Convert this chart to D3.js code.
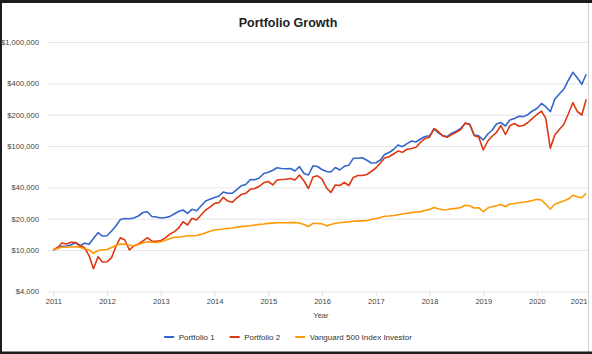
<!DOCTYPE html>
<html>
<head>
<meta charset="utf-8">
<script src="https://cdn.jsdelivr.net/npm/d3@7"></script>
<style>
    body { margin: 0; background: #1c1c1c; }
    svg { display: block; font-family: "Liberation Sans", Arial, sans-serif; }
</style>
</head>
<body>
<svg id="chart"></svg>
<script>
// monthly values, first point is the start of Jan 2011
const startYear = 2011;
const portfolio1 = [
    10000, 10450, 10850, 10930, 11170, 11750, 10930, 11600, 11340, 12900, 14680, 13630,
    13720, 15230, 17010, 19650, 20090, 19950, 20310, 21230, 22940, 23300, 21000, 20760,
    20310, 20540, 20930, 22190, 23450, 24250, 22540, 24630, 23860, 26490, 29590, 30710,
    31990, 33060, 36120, 35100, 35100, 38160, 41430, 42650, 47640, 47330, 49250, 54370,
    55850, 58490, 61760, 60770, 60500, 60770, 57500, 63240, 54370, 52630, 64530, 63520,
    59500, 56860, 56240, 62190, 58790, 63810, 65200, 76150, 76150, 77200, 72930, 68670,
    68970, 73360, 82860, 86630, 92560, 102240, 98460, 105460, 111710, 109260, 116700, 123400,
    125630, 145770, 134170, 126200, 122850, 132660, 138490, 147290, 165350, 162750, 127570, 125330,
    114200, 130430, 140930, 162750, 168210, 155700, 177830, 183840, 193000, 191700, 200900, 217070,
    229350, 256290, 238640, 213670, 281600, 316250, 351040, 426500, 511300, 453780, 392060, 489210
];
const portfolio2 = [
    10000, 10620, 11670, 11420, 11860, 11800, 11050, 10520, 8850, 6600, 8620, 7670,
    7700, 8450, 10760, 13130, 12480, 10000, 10930, 11420, 12200, 13130, 12200, 12120,
    12340, 13100, 14160, 14930, 16200, 18720, 17400, 20180, 19430, 21710, 24250, 25810,
    28020, 28620, 32120, 29590, 28750, 31630, 34100, 35100, 38450, 39030, 40970, 44260,
    45570, 42190, 47110, 47640, 47860, 48800, 47110, 52630, 46100, 39030, 50350, 51700,
    48250, 39460, 35730, 42190, 41730, 44570, 41730, 49830, 52080, 52080, 53220, 56860,
    61450, 68670, 76680, 78750, 83790, 89400, 87000, 93000, 94800, 97200, 108540, 118080,
    121490, 147290, 137860, 124780, 121490, 128990, 135420, 143780, 166490, 160980, 125330, 122050,
    91540, 111710, 123400, 135420, 157420, 128990, 156720, 164600, 154700, 157420, 168210, 184670,
    200900, 216120, 184670, 95000, 127570, 144110, 160980, 203100, 260840, 214620, 198660, 281600
];
const vanguard = [
    10000, 10380, 10620, 10620, 10690, 10730, 10640, 10270, 10040, 9260, 9890, 10070,
    10130, 10570, 11050, 11420, 11340, 11120, 10990, 11290, 11670, 11990, 11860, 11800,
    11990, 12400, 12810, 13240, 13340, 13480, 13700, 13720, 13790, 14130, 14670, 15160,
    15570, 15740, 15910, 16160, 16270, 16570, 16790, 16980, 17130, 17400, 17630, 17780,
    18020, 18140, 18260, 18300, 18300, 18350, 18420, 18180, 17590, 16820, 18060, 17980,
    17900, 17060, 17590, 18100, 18260, 18470, 18640, 18900, 18970, 19060, 19190, 19630,
    20090, 20540, 21090, 21230, 21470, 21800, 22190, 22530, 22890, 23200, 23400, 23960,
    24600, 25620, 24890, 24390, 24530, 24890, 25150, 25680, 26920, 26620, 25340, 25510,
    23340, 25340, 26000, 26690, 27420, 26040, 27720, 28020, 28470, 28840, 29270, 29920,
    30700, 30260, 27510, 24790, 27510, 28620, 29590, 30890, 33600, 32560, 31840, 35100
];
const seriesNames = ['Portfolio 1', 'Portfolio 2', 'Vanguard 500 Index Investor'];
const seriesColors = ['#3366cc', '#dc3912', '#ff9900'];
const yTicks = [4000, 10000, 20000, 40000, 100000, 200000, 400000, 1000000];
const xTickYears = [2011, 2012, 2013, 2014, 2015, 2016, 2017, 2018, 2019, 2020, 2021];

class growthChart {
    constructor(_config, _data) {
        this.config = {
            parentElement: _config.parentElement,
            containerWidth: _config.containerWidth || 592,
            containerHeight: _config.containerHeight || 354,
            margin: { top: 42, right: 4, bottom: 62, left: 48 }
        }
        this.data = _data;
        this.initVis();
    }

    initVis() {
        let vis = this;

        vis.width = vis.config.containerWidth - vis.config.margin.left - vis.config.margin.right;
        vis.height = 291.4 - vis.config.margin.top;

        vis.svg = d3.select(vis.config.parentElement)
            .attr('width', vis.config.containerWidth)
            .attr('height', vis.config.containerHeight);

        // white card with the dark window edge around it
        vis.svg.append('rect')
            .attr('x', 2).attr('y', 3)
            .attr('width', vis.config.containerWidth - 2)
            .attr('height', vis.config.containerHeight - 5)
            .attr('fill', '#fff');

        vis.xScale = d3.scaleTime()
            .domain([new Date(2011, 0, 1), new Date(2021, 0, 1)])
            .range([5.3, 5.3 + 10 * 53.75]);

        vis.yScale = d3.scaleLog()
            .domain([4000, 1000000])
            .range([vis.height, 0]);

        vis.chart = vis.svg.append('g')
            .attr('transform', `translate(${vis.config.margin.left},${vis.config.margin.top})`);

        vis.yAxis = d3.axisLeft(vis.yScale)
            .tickValues(yTicks)
            .tickSize(-vis.width)
            .tickPadding(9)
            .tickFormat(d => '$' + d3.format(',')(d));

        vis.xAxis = d3.axisBottom(vis.xScale)
            .tickValues(xTickYears.map(y => new Date(y, 0, 1)))
            .tickSize(4)
            .tickPadding(3.6)
            .tickFormat(d3.timeFormat('%Y'));

        vis.yAxisG = vis.chart.append('g').attr('class', 'axis y-axis');
        vis.xAxisG = vis.chart.append('g')
            .attr('class', 'axis x-axis')
            .attr('transform', `translate(0,${vis.height})`);

        vis.line = d3.line()
            .x((d, i) => vis.xScale(new Date(startYear, i, 1)))
            .y(d => vis.yScale(d));

        vis.renderVis();
    }

    renderVis() {
        let vis = this;

        vis.yAxisG.call(vis.yAxis);
        vis.yAxisG.select('.domain').remove();
        vis.yAxisG.selectAll('line').attr('stroke', '#e6e6e6');
        vis.yAxisG.selectAll('text')
            .attr('fill', '#444')
            .style('font-size', '7.6px');

        vis.xAxisG.call(vis.xAxis);
        vis.xAxisG.select('.domain').remove();
        vis.xAxisG.selectAll('line').attr('stroke', '#dcdcdc');
        vis.xAxisG.selectAll('text')
            .attr('fill', '#444')
            .style('font-size', '7.5px');

        // last year label sits against the window edge, keep it inside
        vis.xAxisG.selectAll('.tick:last-of-type text')
            .attr('text-anchor', 'end')
            .attr('x', 588 - vis.config.margin.left - vis.xScale(new Date(2021, 0, 1)) - 1);

        vis.chart.selectAll('.series')
            .data(vis.data)
            .join('path')
            .attr('class', 'series')
            .attr('fill', 'none')
            .attr('stroke', (d, i) => seriesColors[i])
            .attr('stroke-width', 1.6)
            .attr('stroke-linejoin', 'round')
            .attr('d', d => vis.line(d));

        vis.chart.append('text')
            .attr('x', (5.3 + vis.width) / 2 + 0.3)
            .attr('y', 318 - vis.config.margin.top)
            .attr('text-anchor', 'middle')
            .attr('fill', '#444')
            .style('font-size', '7.5px')
            .text('Year');

        vis.svg.append('text')
            .attr('x', 288)
            .attr('y', 27)
            .attr('text-anchor', 'middle')
            .attr('fill', '#222')
            .style('font-size', '12.5px')
            .style('font-weight', 'bold')
            .text('Portfolio Growth');

        // legend, centred under the title
        const legend = vis.svg.append('g').attr('transform', 'translate(0,337)');
        let x = 0;
        seriesNames.forEach((name, i) => {
            const item = legend.append('g').attr('transform', `translate(${x},0)`);
            item.append('line')
                .attr('x1', 0).attr('x2', 10)
                .attr('stroke', seriesColors[i])
                .attr('stroke-width', 2);
            const t = item.append('text')
                .attr('x', 14.5)
                .attr('dy', '0.35em')
                .attr('fill', '#333')
                .style('font-size', '8px')
                .text(name);
            x += 14.5 + t.node().getComputedTextLength() + 15;
        });
        legend.attr('transform', `translate(${288 - (x - 15) / 2},337)`);

        // right edge of the window cuts the plot
        vis.svg.append('rect')
            .attr('x', 588.5).attr('y', 3)
            .attr('width', 4).attr('height', vis.config.containerHeight - 5)
            .attr('fill', '#fff');
        vis.svg.append('line')
            .attr('x1', 588.5).attr('x2', 588.5)
            .attr('y1', 3).attr('y2', vis.config.containerHeight - 2)
            .attr('stroke', '#d0d0d0');
        vis.svg.append('rect')
            .attr('x', 0).attr('y', vis.config.containerHeight - 2.5)
            .attr('width', vis.config.containerWidth).attr('height', 2.5)
            .attr('fill', '#1c1c1c');
    }
}

new growthChart({ parentElement: '#chart' }, [portfolio1, portfolio2, vanguard]);
</script>
</body>
</html>
